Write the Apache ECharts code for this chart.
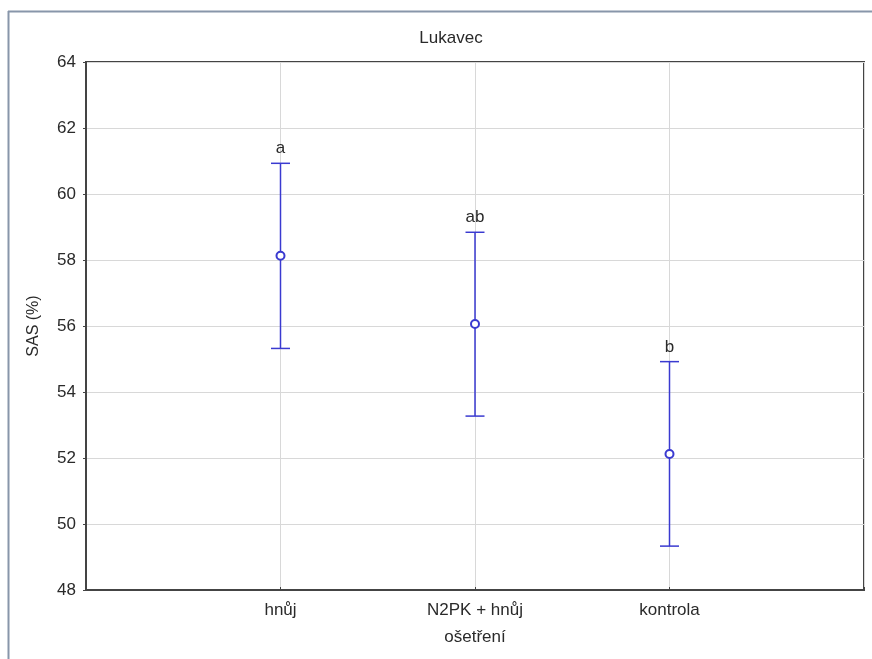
<!DOCTYPE html>
<html><head><meta charset="utf-8">
<script src="https://cdn.jsdelivr.net/npm/echarts@6/dist/echarts.min.js"></script>
<style>html,body{margin:0;padding:0;background:#fff}#c{width:872px;height:659px}</style>
</head><body><div id="c"></div>
<script>
var categories = ['hnůj', 'N2PK + hnůj', 'kontrola'];
var means = [58.13, 56.06, 52.12];
var upper = [60.93, 58.84, 54.92];
var lower = [55.32, 53.27, 49.33];
var letters = ['a', 'ab', 'b'];
var yTicks = [48, 50, 52, 54, 56, 58, 60, 62, 64];

var chart = echarts.init(document.getElementById('c'));
var blue = '#3a3ad0';
var font = 'Liberation Sans, Arial, sans-serif';
var txt = '#2a2a2a';
var errData = categories.map(function(c, i){ return [i + 1, lower[i], upper[i]]; });
var meanData = categories.map(function(c, i){ return [i + 1, means[i]]; });

chart.setOption({
  animation: false,
  backgroundColor: '#fff',
  title: { text: 'Lukavec', left: 446, top: 25, textAlign: 'center',
    textStyle: { fontFamily: font, fontSize: 17, fontWeight: 'normal', color: txt } },
  graphic: [
    { type: 'line', shape: { x1: 8.5, y1: 11, x2: 8.5, y2: 659 }, style: { stroke: '#8896aa', lineWidth: 2 }, silent: true },
    { type: 'line', shape: { x1: 8, y1: 11.5, x2: 872, y2: 11.5 }, style: { stroke: '#8896aa', lineWidth: 2 }, silent: true }
  ],
  grid: { left: 86, right: 8, top: 62, bottom: 69, show: true, borderColor: '#444', borderWidth: 2, backgroundColor: '#fff' },
  xAxis: {
    type: 'value', min: 0, max: 4, interval: 1,
    name: 'ošetření', nameLocation: 'middle', nameGap: 39,
    nameTextStyle: { fontFamily: font, fontSize: 17, color: txt },
    axisLine: { show: true, lineStyle: { color: '#444', width: 2 } },
    axisTick: { show: true, inside: true, length: 3, lineStyle: { color: '#444' } },
    axisLabel: { fontFamily: font, fontSize: 17, color: txt, margin: 12,
      formatter: function(v){ return categories[v - 1] || ''; } },
    splitLine: { show: true, lineStyle: { color: '#d8d8d8', width: 1 } }
  },
  yAxis: {
    type: 'value', min: yTicks[0], max: yTicks[yTicks.length - 1], interval: 2,
    name: 'SAS (%)', nameLocation: 'middle', nameGap: 44, nameRotate: 90,
    nameTextStyle: { fontFamily: font, fontSize: 16, color: txt },
    axisLine: { show: true, lineStyle: { color: '#444', width: 2 } },
    axisTick: { show: true, length: 3, lineStyle: { color: '#444' } },
    axisLabel: { fontFamily: font, fontSize: 17, color: txt, margin: 10 },
    splitLine: { show: true, lineStyle: { color: '#d8d8d8', width: 1 } }
  },
  series: [
    {
      type: 'custom',
      data: errData,
      z: 3,
      renderItem: function(params, api){
        var x = api.value(0);
        var lo = api.coord([x, api.value(1)]);
        var hi = api.coord([x, api.value(2)]);
        var hw = 9.5;
        var i = params.dataIndex;
        return { type: 'group', children: [
          { type: 'line', shape: { x1: lo[0], y1: lo[1], x2: hi[0], y2: hi[1] }, style: { stroke: blue, lineWidth: 1.5 } },
          { type: 'line', shape: { x1: hi[0] - hw, y1: hi[1], x2: hi[0] + hw, y2: hi[1] }, style: { stroke: blue, lineWidth: 1.5 } },
          { type: 'line', shape: { x1: lo[0] - hw, y1: lo[1], x2: lo[0] + hw, y2: lo[1] }, style: { stroke: blue, lineWidth: 1.5 } },
          { type: 'text', x: hi[0], y: hi[1] - 6, style: { text: letters[i], fontFamily: font, fontSize: 17, fill: txt, align: 'center', verticalAlign: 'bottom' } }
        ] };
      }
    },
    {
      type: 'scatter',
      data: meanData,
      z: 4,
      symbol: 'circle', symbolSize: 8,
      itemStyle: { color: '#fff', borderColor: blue, borderWidth: 2, opacity: 1 }
    }
  ]
});
</script></body></html>
